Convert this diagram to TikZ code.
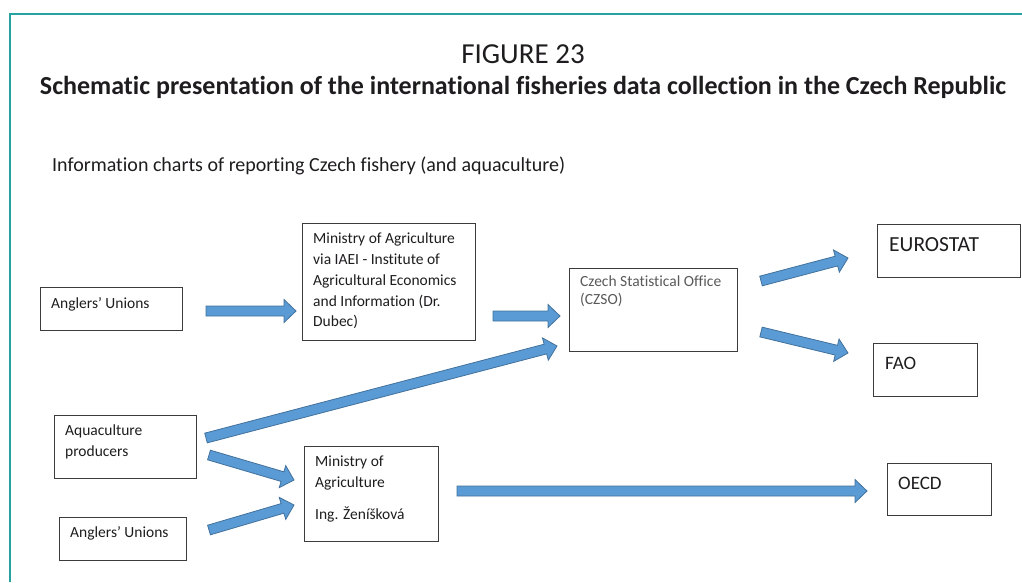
\documentclass[tikz,border=0pt]{standalone}
\usepackage{fontspec}
\setmainfont[Ligatures=CommonOff]{Carlito}
\definecolor{frameteal}{RGB}{38,163,160}
\definecolor{boxline}{RGB}{60,60,60}
\definecolor{arrowfill}{RGB}{91,155,213}
\definecolor{arrowline}{RGB}{65,113,156}
\definecolor{inktext}{RGB}{30,28,30}
\definecolor{greytext}{RGB}{89,89,89}
\usetikzlibrary{positioning, calc}
\tikzset{
    infobox/.style={
        rectangle,
        draw=boxline,
        line width=1.1pt,
        anchor=north west,
        inner sep=0pt
    },
    boxtext/.style={
        anchor=north west,
        inner sep=0pt,
        align=left,
        text=inktext,
        font=\fontsize{15.5}{20.7}\selectfont
    },
    blockarrow/.style={fill=arrowfill, draw=arrowline, line width=0.8pt, line join=miter}
}
% block arrow from #1 to #2
\newcommand{\flowarrow}[2]{%
    \coordinate (hb) at ($(#2)!12pt!(#1)$);
    \draw[blockarrow] ($(#1)!5pt!90:(#2)$) -- ($(hb)!5pt!-90:(#1)$) -- ($(hb)!11.5pt!-90:(#1)$) -- (#2)
        -- ($(hb)!11.5pt!90:(#1)$) -- ($(hb)!5pt!90:(#1)$) -- ($(#1)!5pt!-90:(#2)$) -- cycle;
}

\begin{document}
\begin{tikzpicture}[x=1pt, y=-1pt]
          \useasboundingbox (0,0) rectangle (1022,582);
          \draw[frameteal, line width=2pt] (10,582) -- (10,14) -- (1022,14);

          % titles
          \node[text=inktext, font=\fontsize{29}{32}\selectfont] (fig) at (523,54) {FIGURE 23};
          \node[text=inktext, font=\fontsize{26}{28}\selectfont\bfseries] (title) at (523,87) {Schematic presentation of the international fisheries data collection in the Czech Republic};
          \node[text=inktext, font=\fontsize{20}{22}\selectfont, anchor=west, inner sep=0pt] (sub) at (52,166) {Information charts of reporting Czech fishery (and aquaculture)};

          % boxes
          \node[infobox, minimum width=142pt, minimum height=43pt] (angl1) at (40,287) {};
          \node[infobox, minimum width=173pt, minimum height=117pt] (iaei) at (302,223) {};
          \node[infobox, minimum width=168pt, minimum height=83pt] (czso) at (569,268) {};
          \node[infobox, minimum width=143pt, minimum height=53pt] (euro) at (877,224) {};
          \node[infobox, minimum width=104pt, minimum height=53pt] (fao) at (873,343) {};
          \node[infobox, minimum width=104pt, minimum height=52pt] (oecd) at (887,463) {};
          \node[infobox, minimum width=142pt, minimum height=63pt] (aqua) at (54,415) {};
          \node[infobox, minimum width=127pt, minimum height=43pt] (angl2) at (59,517) {};
          \node[infobox, minimum width=134pt, minimum height=95pt] (moa) at (304,446) {};

          \node[boxtext] (angl1-t) at ($(angl1.north west)+(11,10)$) {Anglers' Unions};
          \node[boxtext] (iaei-t) at ($(iaei.north west)+(11,10)$) {Ministry of Agriculture\\via IAEI - Institute of\\Agricultural Economics\\and Information (Dr.\\Dubec)};
          \node[boxtext, text=greytext, font=\fontsize{15.5}{18}\selectfont] (czso-t) at ($(czso.north west)+(11,8)$) {Czech Statistical Office\\(CZSO)};
          \node[boxtext, font=\fontsize{21.5}{23}\selectfont] (euro-t) at ($(euro.north west)+(12,13)$) {EUROSTAT};
          \node[boxtext, font=\fontsize{19}{20}\selectfont] (fao-t) at ($(fao.north west)+(12,14)$) {FAO};
          \node[boxtext, font=\fontsize{19}{20}\selectfont] (oecd-t) at ($(oecd.north west)+(11,14)$) {OECD};
          \node[boxtext] (aqua-t) at ($(aqua.north west)+(11,10)$) {Aquaculture\\producers};
          \node[boxtext] (angl2-t) at ($(angl2.north west)+(11,9)$) {Anglers' Unions};
          \node[boxtext] (moa-t) at ($(moa.north west)+(11,10)$) {Ministry of\\Agriculture\\[11pt]Ing. Ženíšková};

          % arrow ends
          \coordinate (angl1-out) at (206,311);
          \coordinate (iaei-in) at (296,311);
          \coordinate (iaei-out) at (493,316);
          \coordinate (czso-in) at (560,316);
          \coordinate (aqua-up) at (206,438);
          \coordinate (czso-low) at (557,346);
          \coordinate (aqua-out) at (209,455);
          \coordinate (moa-in1) at (294,480);
          \coordinate (angl2-out) at (209,530);
          \coordinate (moa-in2) at (294,505);
          \coordinate (moa-out) at (457,491);
          \coordinate (oecd-in) at (867,491);
          \coordinate (czso-out1) at (761,281);
          \coordinate (euro-in) at (848,258);
          \coordinate (czso-out2) at (761,332);
          \coordinate (fao-in) at (848,353);

          \flowarrow{angl1-out}{iaei-in}
          \flowarrow{iaei-out}{czso-in}
          \flowarrow{aqua-up}{czso-low}
          \flowarrow{aqua-out}{moa-in1}
          \flowarrow{angl2-out}{moa-in2}
          \flowarrow{moa-out}{oecd-in}
          \flowarrow{czso-out1}{euro-in}
          \flowarrow{czso-out2}{fao-in}
        \end{tikzpicture}
\end{document}
